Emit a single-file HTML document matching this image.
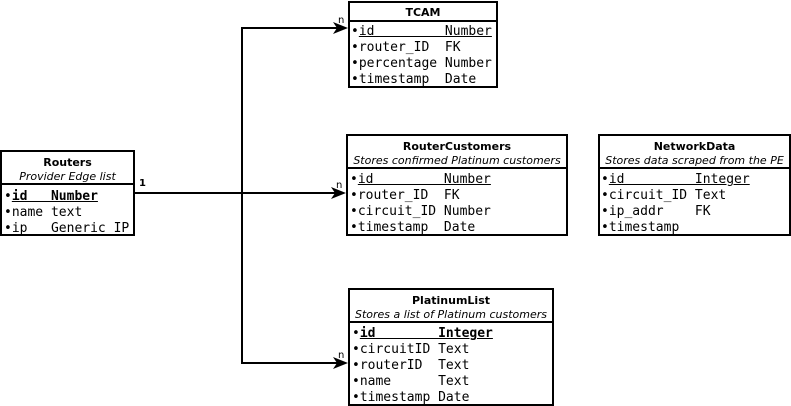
<!DOCTYPE html>
<html><head><meta charset="utf-8"><style>
body{margin:0;width:791px;height:406px;background:#fff;position:relative;overflow:hidden}
.t{position:absolute;border:2px solid #000;box-sizing:border-box;background:#fff}
.h{position:absolute;left:0;right:0;text-align:center;font-family:"DejaVu Sans","Liberation Sans",sans-serif;font-size:11px;color:#000}
.b{font-weight:bold}
.i{font-style:italic}
.sep{position:absolute;left:0;right:0;border-top:2px solid #000}
.r{position:absolute;font-family:"DejaVu Sans Mono","Liberation Mono",monospace;font-size:13px;line-height:16px;white-space:pre;color:#000}
.u{text-decoration:underline}
.lbl{position:absolute;font-family:"DejaVu Sans",sans-serif;font-size:10px}
</style></head><body>
<svg width="791" height="406" style="position:absolute;left:0;top:0">
<g stroke="#000" stroke-width="2" fill="none">
<line x1="134" y1="193" x2="336" y2="193"/>
<line x1="242" y1="28" x2="242" y2="363"/>
<line x1="241" y1="28" x2="338" y2="28"/>
<line x1="241" y1="363" x2="338" y2="363"/>
</g>
<g fill="#000">
<polygon points="348,28 333,22 337,28 333,34"/>
<polygon points="346,193 331,187 335,193 331,199"/>
<polygon points="348,363 333,357 337,363 333,369"/>
</g>
</svg>
<div class="lbl" style="left:139px;top:178px;font-weight:bold">1</div>
<div class="lbl" style="left:338px;top:15px">n</div>
<div class="lbl" style="left:336px;top:180px">n</div>
<div class="lbl" style="left:338px;top:350px">n</div>

<!-- Routers -->
<div class="t" style="left:0;top:150px;width:135px;height:86px">
<div class="h b" style="top:4px">Routers</div>
<div class="h i" style="top:18px">Provider Edge list</div>
<div class="sep" style="top:31px"></div>
<div class="r" style="left:2px;top:37px">•<b class="u">id   Number</b>
•name text
•ip   Generic IP</div>
</div>

<!-- TCAM -->
<div class="t" style="left:348px;top:1px;width:150px;height:87px">
<div class="h b" style="top:3px">TCAM</div>
<div class="sep" style="top:17px"></div>
<div class="r" style="left:1px;top:21px">•<span class="u">id         Number</span>
•router_ID  FK
•percentage Number
•timestamp  Date</div>
</div>

<!-- RouterCustomers -->
<div class="t" style="left:346px;top:134px;width:222px;height:102px">
<div class="h b" style="top:4px">RouterCustomers</div>
<div class="h i" style="top:18px">Stores confirmed Platinum customers</div>
<div class="sep" style="top:31px"></div>
<div class="r" style="left:2px;top:36px">•<span class="u">id         Number</span>
•router_ID  FK
•circuit_ID Number
•timestamp  Date</div>
</div>

<!-- NetworkData -->
<div class="t" style="left:598px;top:134px;width:193px;height:102px">
<div class="h b" style="top:4px">NetworkData</div>
<div class="h i" style="top:18px">Stores data scraped from the PE</div>
<div class="sep" style="top:31px"></div>
<div class="r" style="left:1px;top:36px">•<span class="u">id         Integer</span>
•circuit_ID Text
•ip_addr    FK
•timestamp</div>
</div>

<!-- PlatinumList -->
<div class="t" style="left:348px;top:288px;width:206px;height:118px">
<div class="h b" style="top:4px">PlatinumList</div>
<div class="h i" style="top:18px">Stores a list of Platinum customers</div>
<div class="sep" style="top:31px"></div>
<div class="r" style="left:2px;top:36px">•<b class="u">id        Integer</b>
•circuitID Text
•routerID  Text
•name      Text
•timestamp Date</div>
</div>
</body></html>
